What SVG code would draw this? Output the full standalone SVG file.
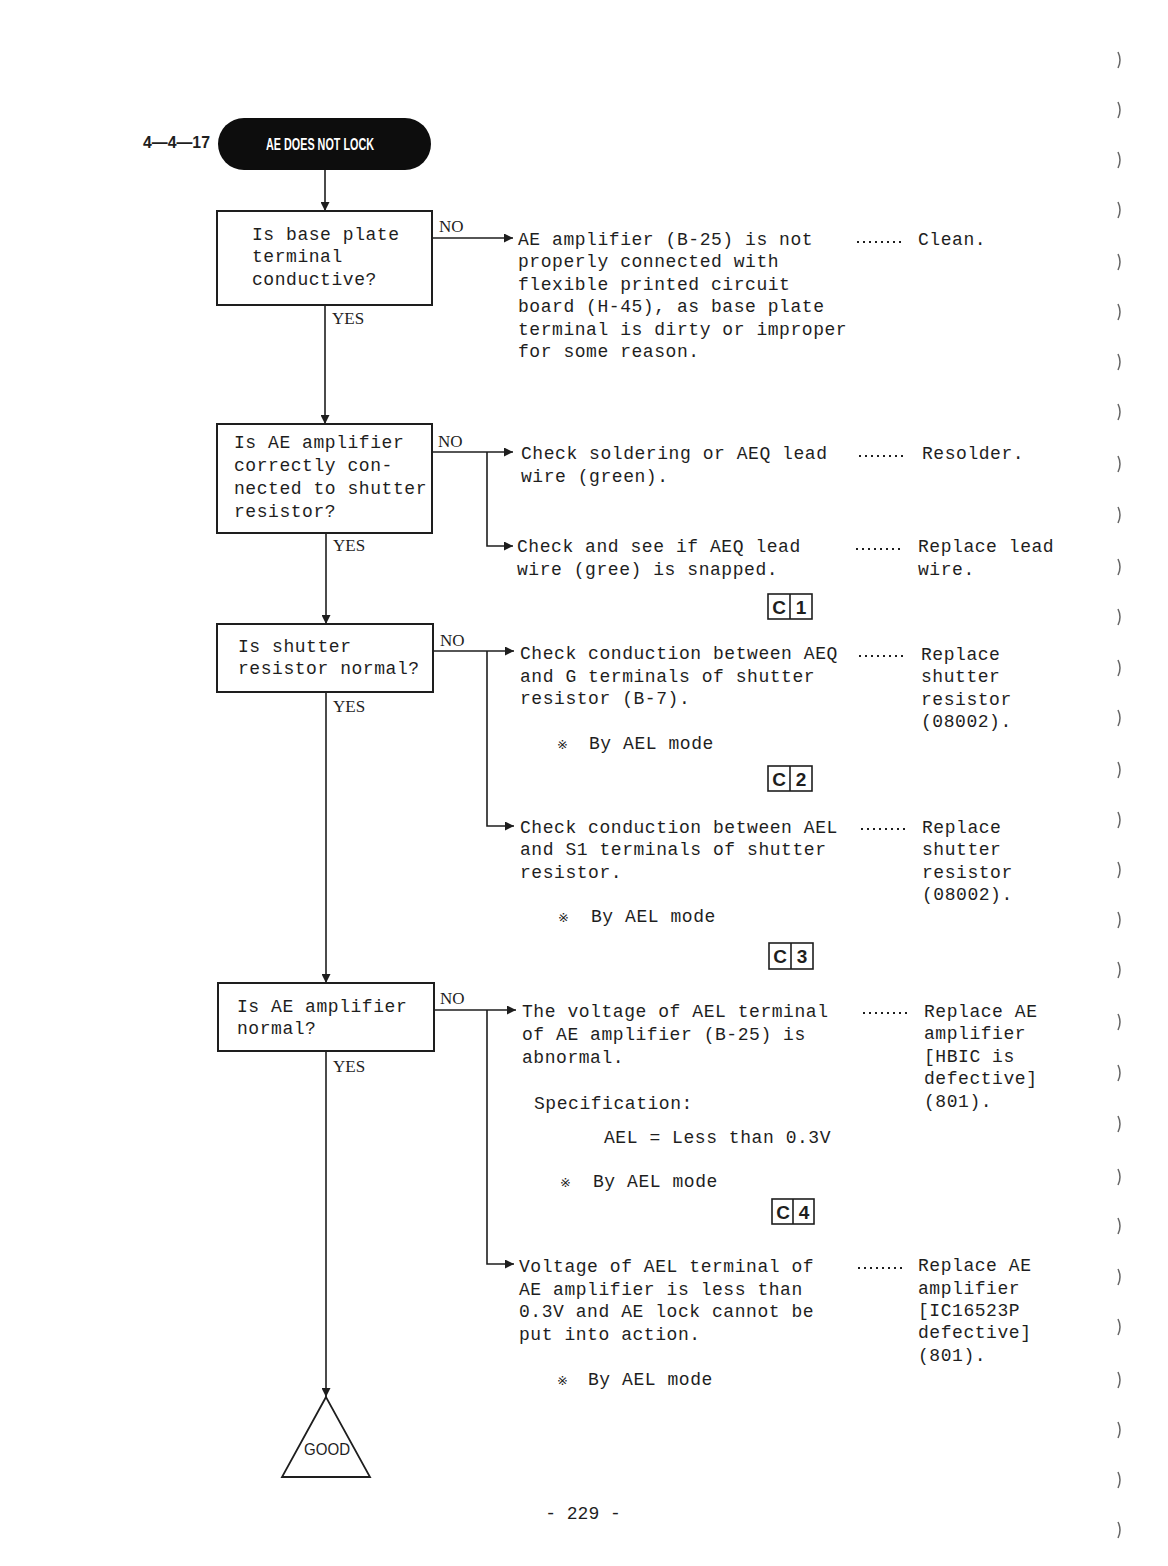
<svg xmlns="http://www.w3.org/2000/svg" width="1168" height="1566" viewBox="0 0 1168 1566">
<defs>
<style>
.t{font-family:"Liberation Mono","DejaVu Sans Mono",monospace;font-size:18px;letter-spacing:0.55px;fill:#1e1e1e}
.sm{font-family:"DejaVu Sans",sans-serif;font-size:13px;fill:#1e1e1e}
.yn{font-family:"Liberation Serif",serif;font-size:17px;fill:#1e1e1e}
.box{fill:#fff;stroke:#1e1e1e;stroke-width:2}
.ln{fill:none;stroke:#1e1e1e;stroke-width:1.6}
.dots{fill:none;stroke:#1e1e1e;stroke-width:2;stroke-dasharray:2 4}
.cb{fill:none;stroke:#1e1e1e;stroke-width:1.6}
.ct{font-family:"Liberation Sans",Arial,sans-serif;font-size:19px;font-weight:bold;fill:#1e1e1e;text-anchor:middle}
.edge{fill:none;stroke:#666;stroke-width:1.5}
</style>
<marker id="ah" viewBox="0 0 10 10" refX="10" refY="5" markerWidth="9" markerHeight="9" markerUnits="userSpaceOnUse" orient="auto">
<path d="M0,0 L10,5 L0,10 z" fill="#1e1e1e"/>
</marker>
</defs>
<rect width="1168" height="1566" fill="#fff"/>

<g id="connectors">
<line class="ln" x1="325" y1="170" x2="325" y2="211" marker-end="url(#ah)"/>
<line class="ln" x1="325" y1="305" x2="325" y2="424" marker-end="url(#ah)"/>
<line class="ln" x1="326" y1="533" x2="326" y2="624" marker-end="url(#ah)"/>
<line class="ln" x1="326" y1="692" x2="326" y2="983" marker-end="url(#ah)"/>
<line class="ln" x1="326" y1="1051" x2="326" y2="1397" marker-end="url(#ah)"/>
<line class="ln" x1="432" y1="238" x2="513" y2="238" marker-end="url(#ah)"/>
<line class="ln" x1="432" y1="452" x2="513" y2="452" marker-end="url(#ah)"/>
<polyline class="ln" points="487,452 487,546 513,546" marker-end="url(#ah)"/>
<line class="ln" x1="433" y1="651" x2="514" y2="651" marker-end="url(#ah)"/>
<polyline class="ln" points="487,651 487,826 514,826" marker-end="url(#ah)"/>
<line class="ln" x1="434" y1="1010" x2="516" y2="1010" marker-end="url(#ah)"/>
<polyline class="ln" points="487,1010 487,1264 514,1264" marker-end="url(#ah)"/>
<text class="yn" x="439" y="232">NO</text>
<text class="yn" x="332" y="324">YES</text>
<text class="yn" x="438" y="447">NO</text>
<text class="yn" x="333" y="551">YES</text>
<text class="yn" x="440" y="646">NO</text>
<text class="yn" x="333" y="712">YES</text>
<text class="yn" x="440" y="1004">NO</text>
<text class="yn" x="333" y="1072">YES</text>
</g>

<g id="label">
<text x="143" y="148" font-family="Liberation Sans,Arial,sans-serif" font-size="16" font-weight="bold" fill="#1e1e1e" textLength="67" lengthAdjust="spacingAndGlyphs">4—4—17</text>
</g>

<g id="start">
<rect x="218" y="118" width="213" height="52" rx="26" fill="#0d0d0d"/>
<text x="320" y="150" font-family="Liberation Sans,Arial,sans-serif" font-size="17" font-weight="bold" fill="#fff" text-anchor="middle" textLength="108" lengthAdjust="spacingAndGlyphs">AE DOES NOT LOCK</text>
</g>

<g id="q1">
<rect class="box" x="217" y="211" width="215" height="94"/>
<text class="t" x="252" y="240">Is base plate</text>
<text class="t" x="252" y="262">terminal</text>
<text class="t" x="252" y="285">conductive?</text>
</g>

<g id="r1">
<text class="t" x="518" y="245">AE amplifier (B-25) is not</text>
<text class="t" x="518" y="267">properly connected with</text>
<text class="t" x="518" y="290">flexible printed circuit</text>
<text class="t" x="518" y="312">board (H-45), as base plate</text>
<text class="t" x="518" y="335">terminal is dirty or improper</text>
<text class="t" x="518" y="357">for some reason.</text>
<line class="dots" x1="857" y1="242" x2="905" y2="242"/>
<text class="t" x="918" y="245">Clean.</text>
</g>

<g id="q2">
<rect class="box" x="217" y="424" width="215" height="109"/>
<text class="t" x="234" y="448">Is AE amplifier</text>
<text class="t" x="234" y="471">correctly con-</text>
<text class="t" x="234" y="494">nected to shutter</text>
<text class="t" x="234" y="517">resistor?</text>
</g>

<g id="r2a">
<text class="t" x="521" y="459">Check soldering or AEQ lead</text>
<text class="t" x="521" y="482">wire (green).</text>
<line class="dots" x1="859" y1="456" x2="906" y2="456"/>
<text class="t" x="922" y="459">Resolder.</text>
</g>

<g id="r2b">
<text class="t" x="517" y="552">Check and see if AEQ lead</text>
<text class="t" x="517" y="575">wire (gree) is snapped.</text>
<line class="dots" x1="856" y1="549" x2="904" y2="549"/>
<text class="t" x="918" y="552">Replace lead</text>
<text class="t" x="918" y="575">wire.</text>
</g>

<g id="c1">
<rect class="cb" x="768" y="594" width="44" height="25"/>
<line class="cb" x1="790" y1="594" x2="790" y2="619"/>
<text class="ct" x="779" y="614">C</text>
<text class="ct" x="801" y="614">1</text>
</g>

<g id="q3">
<rect class="box" x="217" y="624" width="216" height="68"/>
<text class="t" x="238" y="652">Is shutter</text>
<text class="t" x="238" y="674">resistor normal?</text>
</g>

<g id="r3a">
<text class="t" x="520" y="659">Check conduction between AEQ</text>
<text class="t" x="520" y="682">and G terminals of shutter</text>
<text class="t" x="520" y="704">resistor (B-7).</text>
<line class="dots" x1="859" y1="656" x2="906" y2="656"/>
<text class="t" x="921" y="660">Replace</text>
<text class="t" x="921" y="682">shutter</text>
<text class="t" x="921" y="705">resistor</text>
<text class="t" x="921" y="727">(08002).</text>
<text class="sm" x="557" y="749">※</text>
<text class="t" x="589" y="749">By AEL mode</text>
</g>

<g id="c2">
<rect class="cb" x="768" y="766" width="44" height="25"/>
<line class="cb" x1="790" y1="766" x2="790" y2="791"/>
<text class="ct" x="779" y="786">C</text>
<text class="ct" x="801" y="786">2</text>
</g>

<g id="r3b">
<text class="t" x="520" y="833">Check conduction between AEL</text>
<text class="t" x="520" y="855">and S1 terminals of shutter</text>
<text class="t" x="520" y="878">resistor.</text>
<line class="dots" x1="861" y1="829" x2="908" y2="829"/>
<text class="t" x="922" y="833">Replace</text>
<text class="t" x="922" y="855">shutter</text>
<text class="t" x="922" y="878">resistor</text>
<text class="t" x="922" y="900">(08002).</text>
<text class="sm" x="558" y="922">※</text>
<text class="t" x="591" y="922">By AEL mode</text>
</g>

<g id="c3">
<rect class="cb" x="769" y="943" width="44" height="26"/>
<line class="cb" x1="791" y1="943" x2="791" y2="969"/>
<text class="ct" x="780" y="963">C</text>
<text class="ct" x="802" y="963">3</text>
</g>

<g id="q4">
<rect class="box" x="218" y="983" width="216" height="68"/>
<text class="t" x="237" y="1012">Is AE amplifier</text>
<text class="t" x="237" y="1034">normal?</text>
</g>

<g id="r4a">
<text class="t" x="522" y="1017">The voltage of AEL terminal</text>
<text class="t" x="522" y="1040">of AE amplifier (B-25) is</text>
<text class="t" x="522" y="1063">abnormal.</text>
<line class="dots" x1="863" y1="1013" x2="910" y2="1013"/>
<text class="t" x="924" y="1017">Replace AE</text>
<text class="t" x="924" y="1039">amplifier</text>
<text class="t" x="924" y="1062">[HBIC is</text>
<text class="t" x="924" y="1084">defective]</text>
<text class="t" x="924" y="1107">(801).</text>
<text class="t" x="534" y="1109">Specification:</text>
<text class="t" x="604" y="1143">AEL = Less than 0.3V</text>
<text class="sm" x="560" y="1187">※</text>
<text class="t" x="593" y="1187">By AEL mode</text>
</g>

<g id="c4">
<rect class="cb" x="772" y="1199" width="42" height="25"/>
<line class="cb" x1="793" y1="1199" x2="793" y2="1224"/>
<text class="ct" x="783" y="1219">C</text>
<text class="ct" x="804" y="1219">4</text>
</g>

<g id="r4b">
<text class="t" x="519" y="1272">Voltage of AEL terminal of</text>
<text class="t" x="519" y="1295">AE amplifier is less than</text>
<text class="t" x="519" y="1317">0.3V and AE lock cannot be</text>
<text class="t" x="519" y="1340">put into action.</text>
<line class="dots" x1="858" y1="1268" x2="905" y2="1268"/>
<text class="t" x="918" y="1271">Replace AE</text>
<text class="t" x="918" y="1294">amplifier</text>
<text class="t" x="918" y="1316">[IC16523P</text>
<text class="t" x="918" y="1338">defective]</text>
<text class="t" x="918" y="1361">(801).</text>
<text class="sm" x="557" y="1385">※</text>
<text class="t" x="588" y="1385">By AEL mode</text>
</g>

<g id="good">
<polygon points="326,1397 282,1477 370,1477" fill="#fff" stroke="#1e1e1e" stroke-width="1.8"/>
<text x="327" y="1455" font-family="Liberation Sans,Arial,sans-serif" font-size="16" fill="#1e1e1e" text-anchor="middle" textLength="46" lengthAdjust="spacingAndGlyphs">GOOD</text>
</g>

<g id="page">
<text x="583" y="1519" font-family="Liberation Mono,monospace" font-size="18" fill="#1e1e1e" text-anchor="middle">- 229 -</text>
</g>

<g id="edge-marks">
<path class="edge" d="M1118,52 q4,8 0,16"/>
<path class="edge" d="M1118,102 q4,8 0,16"/>
<path class="edge" d="M1118,152 q4,8 0,16"/>
<path class="edge" d="M1118,202 q4,8 0,16"/>
<path class="edge" d="M1118,254 q4,8 0,16"/>
<path class="edge" d="M1118,304 q4,8 0,16"/>
<path class="edge" d="M1118,354 q4,8 0,16"/>
<path class="edge" d="M1118,404 q4,8 0,16"/>
<path class="edge" d="M1118,456 q4,8 0,16"/>
<path class="edge" d="M1118,507 q4,8 0,16"/>
<path class="edge" d="M1118,559 q4,8 0,16"/>
<path class="edge" d="M1118,609 q4,8 0,16"/>
<path class="edge" d="M1118,660 q4,8 0,16"/>
<path class="edge" d="M1118,710 q4,8 0,16"/>
<path class="edge" d="M1118,762 q4,8 0,16"/>
<path class="edge" d="M1118,812 q4,8 0,16"/>
<path class="edge" d="M1118,862 q4,8 0,16"/>
<path class="edge" d="M1118,912 q4,8 0,16"/>
<path class="edge" d="M1118,962 q4,8 0,16"/>
<path class="edge" d="M1118,1014 q4,8 0,16"/>
<path class="edge" d="M1118,1065 q4,8 0,16"/>
<path class="edge" d="M1118,1116 q4,8 0,16"/>
<path class="edge" d="M1118,1169 q4,8 0,16"/>
<path class="edge" d="M1118,1218 q4,8 0,16"/>
<path class="edge" d="M1118,1269 q4,8 0,16"/>
<path class="edge" d="M1118,1319 q4,8 0,16"/>
<path class="edge" d="M1118,1372 q4,8 0,16"/>
<path class="edge" d="M1118,1422 q4,8 0,16"/>
<path class="edge" d="M1118,1472 q4,8 0,16"/>
<path class="edge" d="M1118,1522 q4,8 0,16"/>
</g>
</svg>
